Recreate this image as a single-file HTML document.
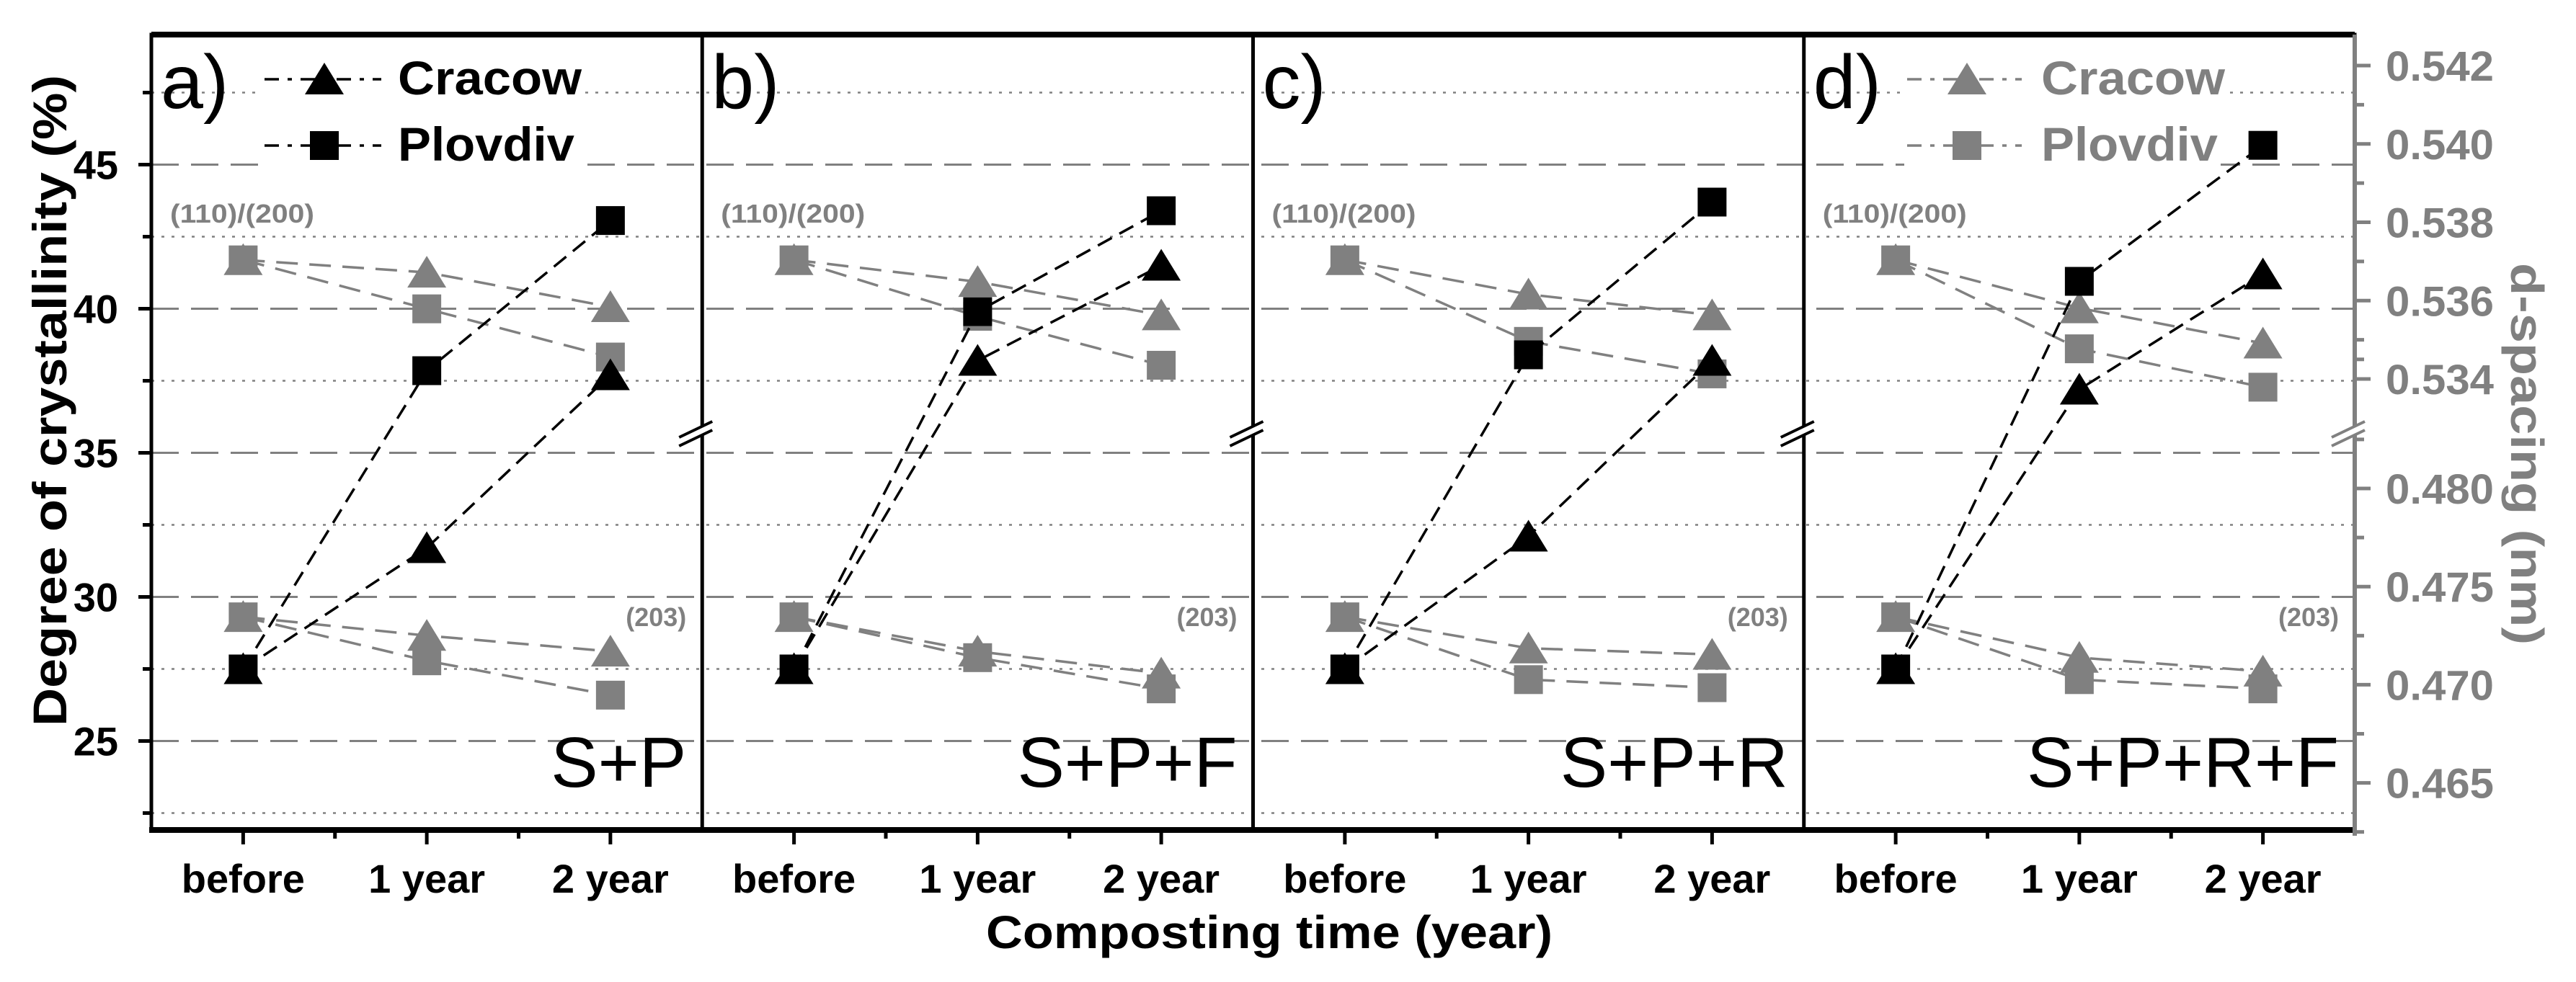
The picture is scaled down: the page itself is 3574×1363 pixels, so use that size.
<!DOCTYPE html>
<html><head><meta charset="utf-8"><style>
html,body{margin:0;padding:0;background:#fff;}
svg{display:block;font-family:"Liberation Sans",Arial,sans-serif;}
</style></head><body>
<svg id="chart" width="3574" height="1363" viewBox="0 0 3574 1363" xmlns="http://www.w3.org/2000/svg">
<g id="grid"></g>
<g id="axes"></g>
<g id="series"></g>
<g id="labels"></g>
</svg>
<script>
// ---- data ----
const categories = ["before", "1 year", "2 year"];
const panelLabels = ["a)", "b)", "c)", "d)"];
const panelTitles = ["S+P", "S+P+F", "S+P+R", "S+P+R+F"];
const leftTicks = [25, 30, 35, 40, 45];
const rightTicksUpper = [0.534, 0.536, 0.538, 0.540, 0.542];
const rightTicksLower = [0.465, 0.470, 0.475, 0.480];
// crystallinity (%) per panel, [before, 1 year, 2 year]
const cracowCryst = [[27.5, 31.7, 37.7], [27.5, 38.2, 41.5], [27.5, 32.1, 38.2], [27.5, 37.2, 41.2]];
const plovdivCryst = [[27.5, 37.85, 43.06], [27.5, 39.9, 43.4], [27.5, 38.4, 43.7], [27.5, 40.95, 45.67]];
// d-spacing (110)/(200) in nm
const cracowD110 = [[0.53704, 0.53672, 0.53584], [0.53704, 0.53648, 0.53563], [0.53704, 0.53616, 0.53563], [0.53704, 0.53581, 0.53491]];
const plovdivD110 = [[0.53704, 0.53579, 0.53456], [0.53704, 0.53560, 0.53435], [0.53704, 0.53496, 0.53413], [0.53704, 0.53477, 0.53379]];
// d-spacing (203) in nm
const cracowD203 = [[0.47346, 0.47250, 0.47170], [0.47346, 0.47170, 0.47058], [0.47346, 0.47186, 0.47154], [0.47346, 0.47138, 0.47068]];
const plovdivD203 = [[0.47346, 0.47122, 0.46947], [0.47346, 0.47138, 0.46979], [0.47346, 0.47026, 0.46985], [0.47346, 0.47026, 0.46979]];

// ---- geometry ----
const NS = "http://www.w3.org/2000/svg";
const PL = 210, PR = 3267, PT = 48, PB = 1152;
const PW = (PR - PL) / 4;
const GRAY = "#808080";
function yL(v) { return 428.5 + (40 - v) * 40; }
function yU(u) { return 526 - (u - 0.534) / 0.002 * 108.75; }
function yLo(u) { return 678 + (0.480 - u) / 0.005 * 136.2; }
function xC(p, i) { return PL + p * PW + (i + 0.5) * PW / 3; }
function mk(tag, attrs, parent) {
  const e = document.createElementNS(NS, tag);
  for (const k in attrs) e.setAttribute(k, attrs[k]);
  parent.appendChild(e);
  return e;
}
const gGrid = document.getElementById("grid"), gAxes = document.getElementById("axes"),
      gSer = document.getElementById("series"), gLab = document.getElementById("labels");

// grid lines
for (let v = 22.5; v < 49; v += 2.5) {
  const major = (v % 5 === 0);
  const l = mk("line", {x1: PL, x2: PR, y1: yL(v), y2: yL(v), stroke: GRAY,
    "stroke-width": major ? 3 : 2.5, "stroke-dasharray": major ? "38 17" : "4 10"}, gGrid);
  
  
}

// frame
const frame = mk("rect", {x: PL, y: PT, width: PR - PL, height: PB - PT, fill: "none", stroke: "#000", "stroke-width": 5}, gAxes);


const topL = mk("line", {x1: PL, x2: PR, y1: PT, y2: PT, stroke: "#000", "stroke-width": 8}, gAxes);


const botL = mk("line", {x1: PL - 3, x2: PR + 3, y1: PB, y2: PB, stroke: "#000", "stroke-width": 8}, gAxes);


for (let p = 1; p < 4; p++) {
  const s = mk("line", {x1: PL + p * PW, x2: PL + p * PW, y1: PT, y2: PB, stroke: "#000", "stroke-width": 5}, gAxes);
  
  
}
const rAx = mk("line", {x1: PR, x2: PR, y1: PT, y2: PB + 8, stroke: GRAY, "stroke-width": 6}, gAxes);



// left ticks & labels
for (let v = 22.5; v < 49; v += 2.5) {
  const major = (v % 5 === 0);
  const t = mk("line", {x1: PL - (major ? 18 : 12), x2: PL, y1: yL(v), y2: yL(v), stroke: "#000", "stroke-width": 5}, gAxes);
  
  
}
leftTicks.forEach(v => {
  const t = mk("text", {x: 164, y: yL(v) + 20, "text-anchor": "end", "font-size": 56, "font-weight": "bold"}, gLab);
  t.textContent = v;
  
  
});
// right ticks & labels
function rTick(y, major) {
  const t = mk("line", {x1: PR, x2: PR + (major ? 22 : 13), y1: y, y2: y, stroke: GRAY, "stroke-width": 5}, gAxes);
  
  
}
rightTicksUpper.forEach((u, i) => {
  rTick(yU(u), true);
  if (i < rightTicksUpper.length - 1) rTick(yU(u + 0.001), false);
  const t = mk("text", {x: 3310, y: yU(u) + 21, "font-size": 58, "font-weight": "bold", fill: GRAY, textLength: 150, lengthAdjust: "spacingAndGlyphs"}, gLab);
  t.textContent = u.toFixed(3);
  
  
});
rTick(yU(0.5345) , false);
rightTicksLower.forEach((u, i) => {
  rTick(yLo(u), true);
  rTick(yLo(u + 0.0025), false);
  if (i === 0) rTick(yLo(u - 0.0025), false);
  const t = mk("text", {x: 3310, y: yLo(u) + 21, "font-size": 58, "font-weight": "bold", fill: GRAY, textLength: 150, lengthAdjust: "spacingAndGlyphs"}, gLab);
  t.textContent = u.toFixed(3);
  
  
});

// break marks
for (let p = 1; p <= 4; p++) {
  const x = PL + p * PW;
  const bg = mk("polygon", {points: `${x-30},606 ${x+12},586 ${x+12},598 ${x-30},618`, fill: "#fff"}, gAxes);
  
  
  [0, 12].forEach(o => {
    const b = mk("line", {x1: x - 32, y1: 607 + o, x2: x + 14, y2: 585 + o, stroke: p === 4 ? GRAY : "#000", "stroke-width": 4}, gAxes);
    
    
  });
}

// x ticks and labels
for (let p = 0; p < 4; p++) {
  for (let i = 0; i < 3; i++) {
    const x = xC(p, i);
    const t = mk("line", {x1: x, x2: x, y1: PB, y2: PB + 20, stroke: "#000", "stroke-width": 5}, gAxes);
    
    
    if (i < 2) {
      const m = mk("line", {x1: x + PW / 6, x2: x + PW / 6, y1: PB, y2: PB + 12, stroke: "#000", "stroke-width": 5}, gAxes);
      
      
    }
    const lb = mk("text", {x: x, y: 1239, "text-anchor": "middle", "font-size": 56, "font-weight": "bold"}, gLab);
    lb.textContent = categories[i];
    
    
  }
}

// markers
function tri(x, y, fill, name) {
  const e = mk("polygon", {points: `${x-27},${y+21} ${x+27},${y+21} ${x},${y-23}`, fill: fill}, gSer);
  
  
}
function sq(x, y, fill, name) {
  const e = mk("rect", {x: x - 20, y: y - 20, width: 40, height: 40, fill: fill}, gSer);
  
  
}
function series(p, vals, yf, color, dash, marker, name) {
  const pts = vals.map((v, i) => [xC(p, i), yf(v)]);
  const pl = mk("polyline", {points: pts.map(q => q.join(",")).join(" "), fill: "none", stroke: color, "stroke-width": 3.5, "stroke-dasharray": dash}, gSer);
  
  
  return pts;
}
for (let p = 0; p < 4; p++) {
  const a = series(p, cracowD110[p], yU, GRAY, "30 16", "tri", "cracow-d110");
  const b = series(p, plovdivD110[p], yU, GRAY, "30 16", "sq", "plovdiv-d110");
  const c = series(p, cracowD203[p], yLo, GRAY, "30 16", "tri", "cracow-d203");
  const d = series(p, plovdivD203[p], yLo, GRAY, "30 16", "sq", "plovdiv-d203");
  b.forEach(q => sq(q[0], q[1], GRAY, 'plovdiv-d110-point'));
  a.forEach(q => tri(q[0], q[1], GRAY, 'cracow-d110-point'));
  d.forEach(q => sq(q[0], q[1], GRAY, 'plovdiv-d203-point'));
  c.forEach(q => tri(q[0], q[1], GRAY, 'cracow-d203-point'));
  const e = series(p, cracowCryst[p], yL, "#000", "22 12", "tri", "cracow-crystallinity");
  const f = series(p, plovdivCryst[p], yL, "#000", "22 12", "sq", "plovdiv-crystallinity");
  f.forEach(q => sq(q[0], q[1], "#000", 'plovdiv-crystallinity-point'));
  e.forEach(q => tri(q[0], q[1], "#000", 'cracow-crystallinity-point'));

  const L = PL + p * PW;
  const pl = mk("text", {x: L + 13, y: 150, "font-size": 106}, gLab);
  pl.textContent = panelLabels[p];
  
  
  const pt = mk("text", {x: L + PW - 22, y: 1092, "text-anchor": "end", "font-size": 98}, gLab);
  pt.textContent = panelTitles[p];
  
  
  const h1 = mk("text", {x: L + 26, y: 309, "font-size": 36, "font-weight": "bold", fill: GRAY, textLength: 200, lengthAdjust: "spacingAndGlyphs"}, gLab);
  h1.textContent = "(110)/(200)";
  
  
  const h2 = mk("text", {x: L + PW - 22, y: 869, "text-anchor": "end", "font-size": 36, "font-weight": "bold", fill: GRAY}, gLab);
  h2.textContent = "(203)";
  
  
}

// legends
function legend(x0, x1, xm, xt, color) {
  [["Cracow", 110, "tri", 131, 255], ["Plovdiv", 202, "sq", 223, 245]].forEach(r => {
    const bg = mk("rect", {x: x0 - 4, y: r[1] - 30, width: xt + r[4] - x0 + 8, height: 60, fill: "#fff"}, gLab);
    
    
    const l = mk("line", {x1: x0, x2: x1, y1: r[1], y2: r[1], stroke: color, "stroke-width": 3.5, "stroke-dasharray": "20 12 6 12"}, gLab);
    
    
    if (r[2] === "tri") {
      const m = mk("polygon", {points: `${xm-27},${r[1]+21} ${xm+27},${r[1]+21} ${xm},${r[1]-23}`, fill: color}, gLab);
      
      
    } else {
      const m = mk("rect", {x: xm - 20, y: r[1] - 20, width: 40, height: 40, fill: color}, gLab);
      
      
    }
    const t = mk("text", {x: xt, y: r[3], "font-size": 66, "font-weight": "bold", fill: color, textLength: r[4], lengthAdjust: "spacingAndGlyphs"}, gLab);
    t.textContent = r[0];
    
    
  });
}
legend(367, 529, 450, 552, "#000");
legend(2646, 2805, 2729, 2832, GRAY);

// axis titles
const yt = mk("text", {x: 0, y: 0, transform: "translate(92,556) rotate(-90)", "text-anchor": "middle", "font-size": 66, "font-weight": "bold", textLength: 904, lengthAdjust: "spacingAndGlyphs"}, gLab);
yt.textContent = "Degree of crystallinity (%)";


const rt = mk("text", {x: 0, y: 0, transform: "translate(3484,630) rotate(90)", "text-anchor": "middle", "font-size": 64, "font-weight": "bold", fill: GRAY, textLength: 530, lengthAdjust: "spacingAndGlyphs"}, gLab);
rt.textContent = "d-spacing (nm)";


const xt = mk("text", {x: 1761, y: 1316, "text-anchor": "middle", "font-size": 64, "font-weight": "bold", textLength: 786, lengthAdjust: "spacingAndGlyphs"}, gLab);
xt.textContent = "Composting time (year)";


</script>
</body></html>
